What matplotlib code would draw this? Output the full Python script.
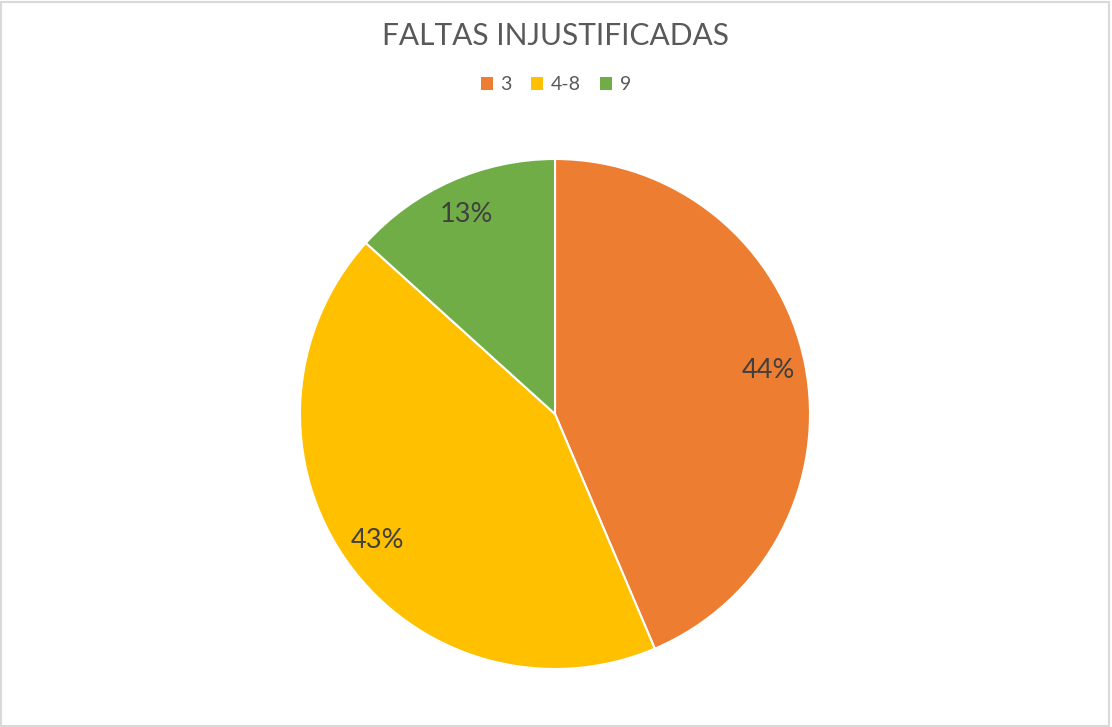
import matplotlib.pyplot as plt
from matplotlib.patches import Patch

categories = ["3", "4-8", "9"]
values = [43.6, 43.1, 13.3]  # shown as 44%, 43%, 13%
colors = ["#ED7D31", "#FFC000", "#70AD47"]
title = "FALTAS INJUSTIFICADAS"

plt.rcParams["font.family"] = ["Lato", "DejaVu Sans"]
text_color = "#595959"

fig = plt.figure(figsize=(11.12, 7.27), dpi=100)

# pie area: centre ~(555, 414) px, radius ~255 px
ax = fig.add_axes([(555 - 255) / 1112, 1 - (414 + 255) / 727, 510 / 1112, 510 / 727])
wedges, texts, autotexts = ax.pie(
    values,
    colors=colors,
    startangle=90,
    counterclock=False,
    autopct="%1.0f%%",
    pctdistance=0.855,
    wedgeprops=dict(edgecolor="white", linewidth=1.5),
    textprops=dict(color="#404040", fontsize=19.5),
)
ax.set_xlim(-1, 1)
ax.set_ylim(-1, 1)
ax.set_aspect("equal")
ax.axis("off")

fig.text(0.5, 1 - 36 / 727, title, ha="center", va="center",
         fontsize=21.5, color=text_color)

handles = [Patch(facecolor=c, edgecolor="none") for c in colors]
fig.legend(handles, categories, loc="center", bbox_to_anchor=(0.5, 1 - 85 / 727),
           ncol=3, frameon=False, fontsize=14, labelcolor=text_color,
           handlelength=0.6, handleheight=0.6, handletextpad=0.4, columnspacing=1.0)

# thin light border around the chart area
fig.patches.append(plt.Rectangle((0.001, 0.001), 0.996, 0.996, transform=fig.transFigure,
                                 fill=False, edgecolor="#D9D9D9", linewidth=1.5))

fig.savefig("out.png", dpi=100, facecolor="white")
